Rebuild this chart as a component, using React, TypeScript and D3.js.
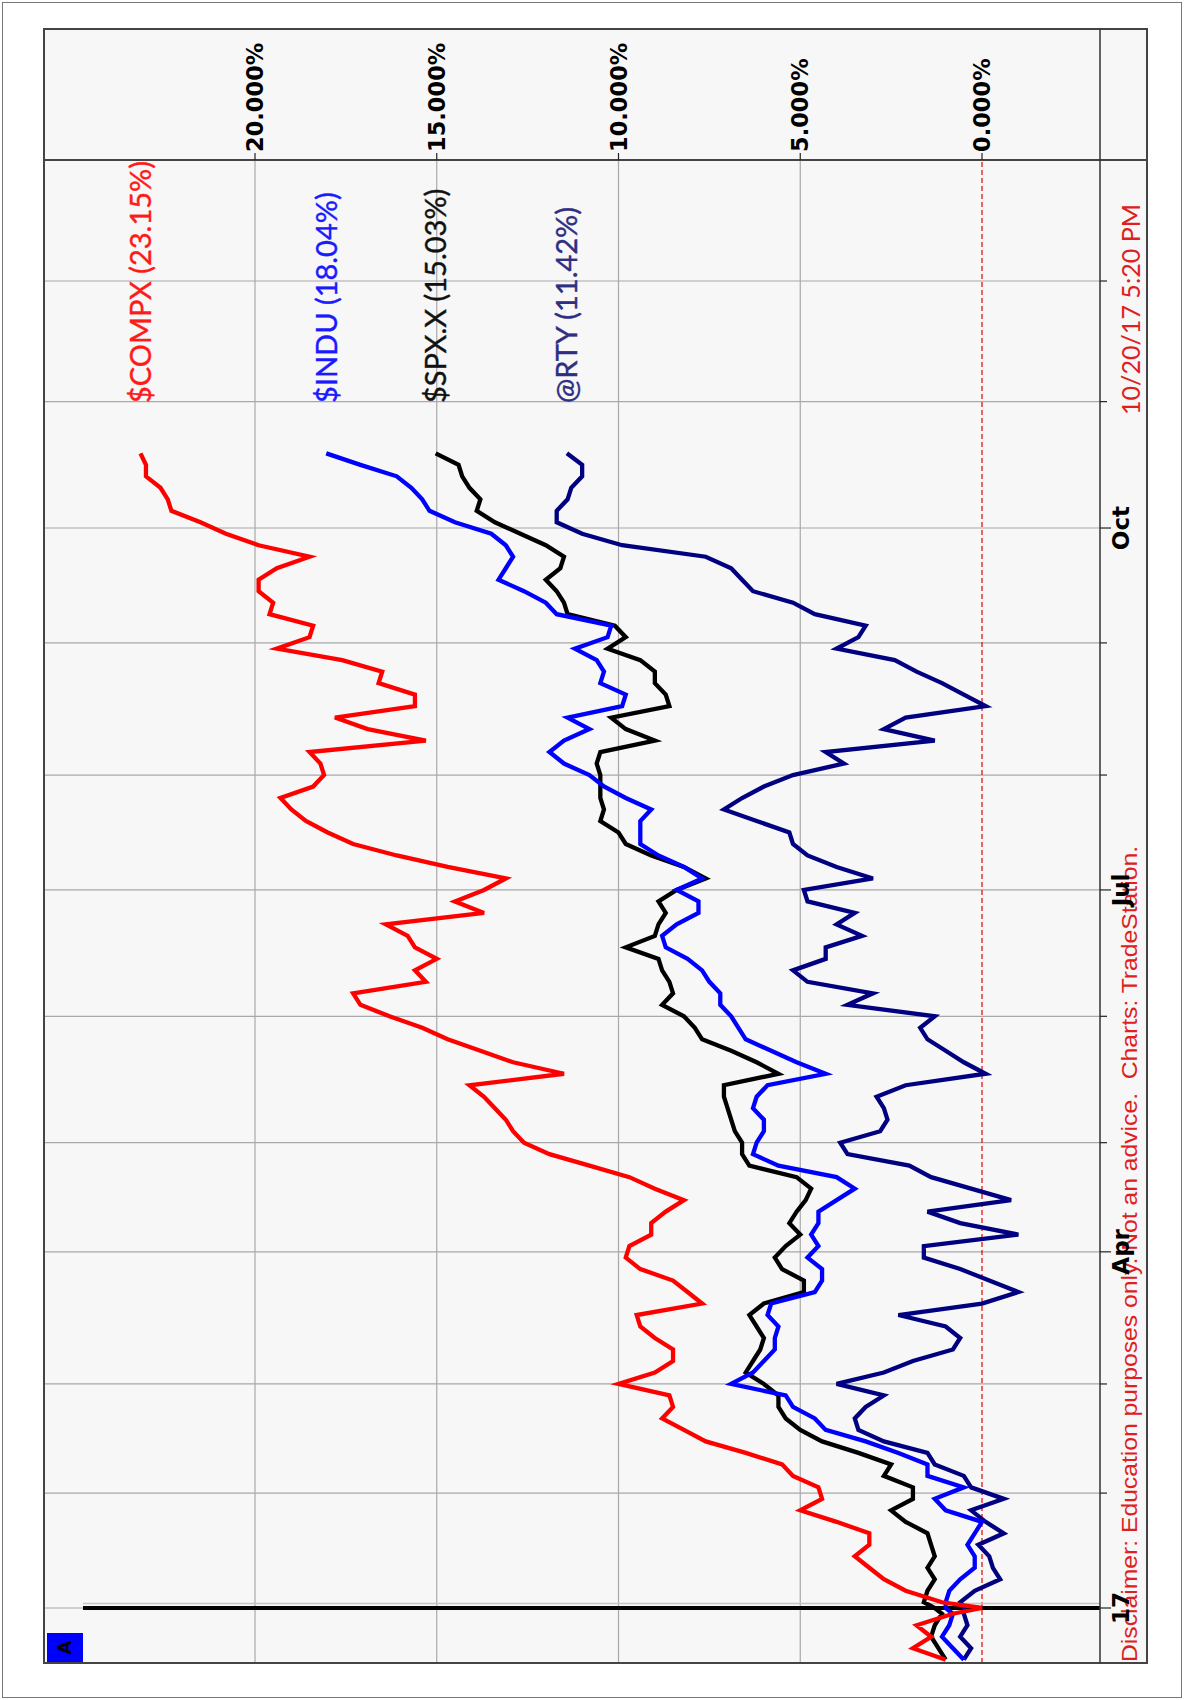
import React from "react";
import * as d3 from "d3";

const width = 1184;
const height = 1700;

// session index, 0 = first session of 2017 (sampled every other session)
const barIndex = [
  -9, -7, -5, -3, -1, 0, 1, 3, 5, 7, 9, 11, 13, 15, 17, 19, 21, 23, 25, 27, 29, 31, 33, 35, 37, 39,
  41, 43, 45, 47, 49, 51, 53, 55, 57, 59, 61, 63, 65, 67, 69, 71, 73, 75, 77, 79, 81, 83, 85, 87, 89,
  91, 93, 95, 97, 99, 101, 103, 105, 107, 109, 111, 113, 115, 117, 119, 121, 123, 125, 127, 129, 131,
  133, 135, 137, 139, 141, 143, 145, 147, 149, 151, 153, 155, 157, 159, 161, 163, 165, 167, 169, 171,
  173, 175, 177, 179, 181, 183, 185, 187, 189, 191, 193, 195, 197, 199, 201,
];

const compx = [
  1.0, 1.9, 1.4, 1.8, 0.8, 0.0, 1.1, 2.1, 2.7, 3.1, 3.5, 3.1, 3.1, 4.0, 5.0, 4.4, 4.5, 5.2, 5.5, 6.5, 7.6,
  8.2, 8.8, 8.5, 8.6, 10.0, 9.0, 8.5, 8.5, 9.0, 9.4, 9.5, 7.7, 8.1, 8.5, 9.4, 9.8, 9.7, 9.1, 9.1, 8.7,
  8.2, 9.0, 9.7, 10.8, 11.9, 12.6, 12.9, 13.1, 13.4, 13.7, 14.1, 11.5, 12.9, 13.8, 14.7, 15.4, 16.3,
  17.1, 17.3, 15.3, 15.6, 15.0, 15.6, 15.8, 16.4, 13.7, 14.5, 13.7, 13.1, 14.7, 16.1, 17.3, 18.0, 18.6,
  19.0, 19.3, 18.4, 18.1, 18.2, 18.5, 15.3, 16.9, 17.8, 15.6, 15.6, 16.6, 16.5, 17.6, 19.4, 18.5, 18.4,
  19.6, 19.5, 19.9, 19.9, 19.4, 18.5, 19.9, 20.8, 21.5, 22.3, 22.4, 22.6, 23.0, 23.0, 23.15,
];

const indu = [
  0.5, 0.8, 1.1, 0.9, 0.8, 1.0, 1.0, 0.9, 0.6, 0.2, 0.2, 0.4, 0.2, 0.0, 1.0, 1.3, 0.5, 1.5, 1.5, 2.3, 3.2,
  4.3, 4.6, 5.2, 5.4, 6.9, 6.3, 6.0, 5.7, 5.7, 5.6, 5.9, 5.8, 4.6, 4.4, 4.4, 4.8, 4.5, 4.7, 4.5, 4.5,
  4.0, 3.5, 4.0, 5.6, 6.3, 6.2, 6.0, 6.0, 6.3, 6.2, 5.9, 4.3, 5.1, 5.8, 6.5, 6.7, 6.9, 7.2, 7.2, 7.5,
  7.7, 8.1, 8.7, 8.8, 8.4, 7.8, 7.8, 8.4, 7.7, 8.2, 8.9, 9.4, 9.4, 9.4, 9.1, 9.8, 10.4, 10.8, 11.5, 11.9,
  11.5, 10.8, 11.4, 9.9, 9.8, 10.5, 10.4, 10.6, 11.2, 10.3, 10.2, 11.7, 12.0, 12.6, 13.3, 13.1, 12.9,
  13.1, 13.5, 14.5, 15.2, 15.4, 15.7, 16.1, 17.1, 18.04,
];

const spx = [
  1.0, 1.2, 1.4, 1.3, 1.1, 1.3, 1.6, 1.5, 1.3, 1.5, 1.3, 1.4, 1.5, 2.1, 2.5, 1.9, 1.9, 2.7, 2.5, 3.4, 4.4,
  5.0, 5.4, 5.6, 5.6, 6.0, 6.5, 6.3, 6.1, 6.0, 6.2, 6.4, 6.0, 4.9, 4.9, 5.5, 5.7, 5.4, 5.0, 5.3, 5.1,
  4.85, 4.7, 5.1, 6.4, 6.6, 6.6, 6.8, 6.9, 7.0, 7.1, 7.1, 5.6, 6.2, 6.9, 7.7, 7.9, 8.2, 8.8, 8.5, 8.6,
  8.8, 8.9, 9.8, 9.0, 8.9, 8.7, 8.9, 8.4, 7.6, 8.2, 9.1, 9.8, 10.0, 10.5, 10.4, 10.5, 10.5, 10.5, 10.6,
  10.5, 9.0, 9.8, 10.2, 8.6, 8.7, 9.0, 9.0, 9.4, 10.3, 9.8, 10.1, 11.4, 11.5, 11.7, 12.0, 11.6, 11.5,
  12.0, 12.7, 13.4, 13.9, 13.8, 14.1, 14.3, 14.4, 15.03,
];

const rty = [
  0.5, 0.3, 0.6, 0.4, 0.5, 0.5, 0.6, 0.2, -0.5, -0.3, -0.2, 0.1, -0.6, -0.1, 0.3, -0.6, 0.3, 0.5, 1.3,
  1.5, 2.7, 3.4, 3.5, 3.2, 2.7, 4.0, 2.7, 1.9, 0.8, 0.6, 1.0, 2.3, 0.0, -1.0, -0.2, 0.6, 1.6, 1.6, -1.0,
  0.6, 1.5, -0.8, 0.3, 1.4, 2.0, 3.7, 3.9, 2.8, 2.6, 2.7, 2.9, 2.1, -0.1, 0.5, 1.0, 1.5, 1.7, 1.3, 3.7,
  3.0, 4.8, 5.2, 4.3, 4.3, 3.3, 4.0, 3.5, 4.8, 4.9, 3.0, 4.0, 4.8, 5.2, 5.3, 6.2, 7.1, 6.6, 6.0, 5.2,
  3.8, 4.3, 1.3, 2.7, 2.1, -0.1, 0.5, 1.1, 1.8, 2.4, 4.0, 3.4, 3.2, 4.6, 5.2, 6.3, 6.6, 6.9, 7.6, 9.9,
  11.0, 11.7, 11.7, 11.4, 11.3, 11.0, 11.0, 11.42,
];

const seriesNames = ["$COMPX", "$INDU", "$SPX.X", "@RTY"];
const seriesValues = [compx, indu, spx, rty];
const seriesLast = [23.15, 18.04, 15.03, 11.42];
const lineColors = ["#ff0000", "#0000ff", "#000000", "#000080"];
const labelColors = ["#ff1a1a", "#1a1aff", "#111111", "#2e2e82"];
const drawOrder = [3, 2, 1, 0];

const monthBars = [0, 20, 39, 62, 81, 103, 125, 145, 168, 188, 210, 231];
const monthLabels = ["17", "", "", "Apr", "", "", "Jul", "", "", "Oct", "", ""];
const pctTicks = [0, 5, 10, 15, 20];
const stampText = "10/20/17 5:20 PM";
const disclaimer = "Disclaimer: Education purposes only. Not an advice.  Charts: TradeStation.";

// chart is laid out as a normal landscape chart, then turned a quarter turn
const L = 37, R = 1671, T = 44, B = 1147;
const axisX = 1540;
const timeY = 1100;

export default function App() {
  const x = d3.scaleLinear().domain([0, 231]).range([92, 1419]);
  const y = d3.scaleLinear().domain([0, 20]).range([982, 255]);
  const fmt = (v: number) => d3.format(".3f")(v) + "%";

  const line = d3
    .line<number>()
    .x((_, i) => x(barIndex[i]))
    .y((d) => y(d));

  return (
    <svg
      width={width}
      height={height}
      style={{ position: "absolute", left: 0, top: 0, background: "#fff" }}
    >
      <rect x={2.5} y={2.5} width={1179} height={1695} fill="none" stroke="#777" strokeWidth={1} />
      <g transform={`translate(0,${height}) rotate(-90)`}>
        <rect x={L} y={T} width={R - L} height={B - T} fill="#f7f7f7" />

        {/* month grid */}
        {monthBars.map((m) => (
          <line key={"g" + m} x1={x(m)} x2={x(m)} y1={T} y2={timeY} stroke="#a8a8a8" strokeWidth={1.2} />
        ))}
        {/* percent grid */}
        {pctTicks
          .filter((p) => p !== 0)
          .map((p) => (
            <line key={"p" + p} x1={L} x2={axisX} y1={y(p)} y2={y(p)} stroke="#a8a8a8" strokeWidth={1.2} />
          ))}
        <line x1={L} x2={axisX} y1={y(0)} y2={y(0)} stroke="#e00000" strokeWidth={1.2} strokeDasharray="5,3" />

        {/* year start marker */}
        <line x1={x(0) + 4.5} x2={x(0) + 4.5} y1={83} y2={timeY} stroke="#c4c4c4" strokeWidth={1.5} />
        <line x1={x(0)} x2={x(0)} y1={83} y2={timeY} stroke="#000" strokeWidth={4} />

        {drawOrder.map((k) => (
          <path
            key={seriesNames[k]}
            d={line(seriesValues[k]) || ""}
            fill="none"
            stroke={lineColors[k]}
            strokeWidth={4.3}
            strokeLinejoin="miter"
          />
        ))}

        {/* frame */}
        <rect x={L} y={T} width={R - L} height={B - T} fill="none" stroke="#444" strokeWidth={2} />
        <line x1={axisX} x2={axisX} y1={T} y2={B} stroke="#444" strokeWidth={2} />
        <line x1={L} x2={R} y1={timeY} y2={timeY} stroke="#333" strokeWidth={1.5} />

        {/* percent axis */}
        {pctTicks.map((p) => (
          <g key={"t" + p}>
            <line x1={axisX} x2={axisX + 7} y1={y(p)} y2={y(p)} stroke="#222" strokeWidth={1.2} />
            <text
              x={1548}
              y={y(p)}
              dy="0.36em"
              fontFamily="DejaVu Sans"
              fontWeight="bold"
              fontSize={22.5}
              fill="#000"
            >
              {fmt(p)}
            </text>
          </g>
        ))}

        {/* time axis */}
        {monthBars.map((m, i) => (
          <line
            key={"m" + m}
            x1={x(m)}
            x2={x(m)}
            y1={timeY}
            y2={timeY + (monthLabels[i] ? 11 : 7)}
            stroke="#222"
            strokeWidth={1.2}
          />
        ))}

        <text
          x={38}
          y={1137}
          fontFamily="Liberation Sans"
          fontSize={21.5}
          fill="#e02020"
          textLength={816}
          lengthAdjust="spacingAndGlyphs"
          style={{ whiteSpace: "pre" }}
        >
          {disclaimer}
        </text>
        <text
          x={1285}
          y={1140}
          fontFamily="Lato"
          fontSize={25}
          fill="#e02020"
          textLength={211}
          lengthAdjust="spacingAndGlyphs"
        >
          {stampText}
        </text>

        {monthBars.map((m, i) =>
          monthLabels[i] ? (
            <text
              key={"l" + m}
              x={x(m)}
              y={1129}
              textAnchor="middle"
              fontFamily="DejaVu Sans"
              fontWeight="bold"
              fontSize={23}
              fill="#000"
            >
              {monthLabels[i]}
            </text>
          ) : null
        )}

        {/* legend at last values */}
        {seriesNames.map((n, k) => (
          <text
            key={"lg" + n}
            x={1297}
            y={y(seriesLast[k])}
            dy="0.36em"
            fontFamily="Lato"
            fontSize={29}
            fill={labelColors[k]}
            stroke={labelColors[k]}
            strokeWidth={0.4}
          >
            {`${n} (${seriesLast[k].toFixed(2)}%)`}
          </text>
        ))}

        {/* workspace tab */}
        <rect x={L + 1} y={47} width={29} height={36} fill="#0000ff" />
        <text
          x={L + 15.5}
          y={65}
          dy="0.36em"
          textAnchor="middle"
          fontFamily="DejaVu Sans"
          fontWeight="bold"
          fontSize={18}
          fill="#000"
        >
          A
        </text>
      </g>
    </svg>
  );
}
